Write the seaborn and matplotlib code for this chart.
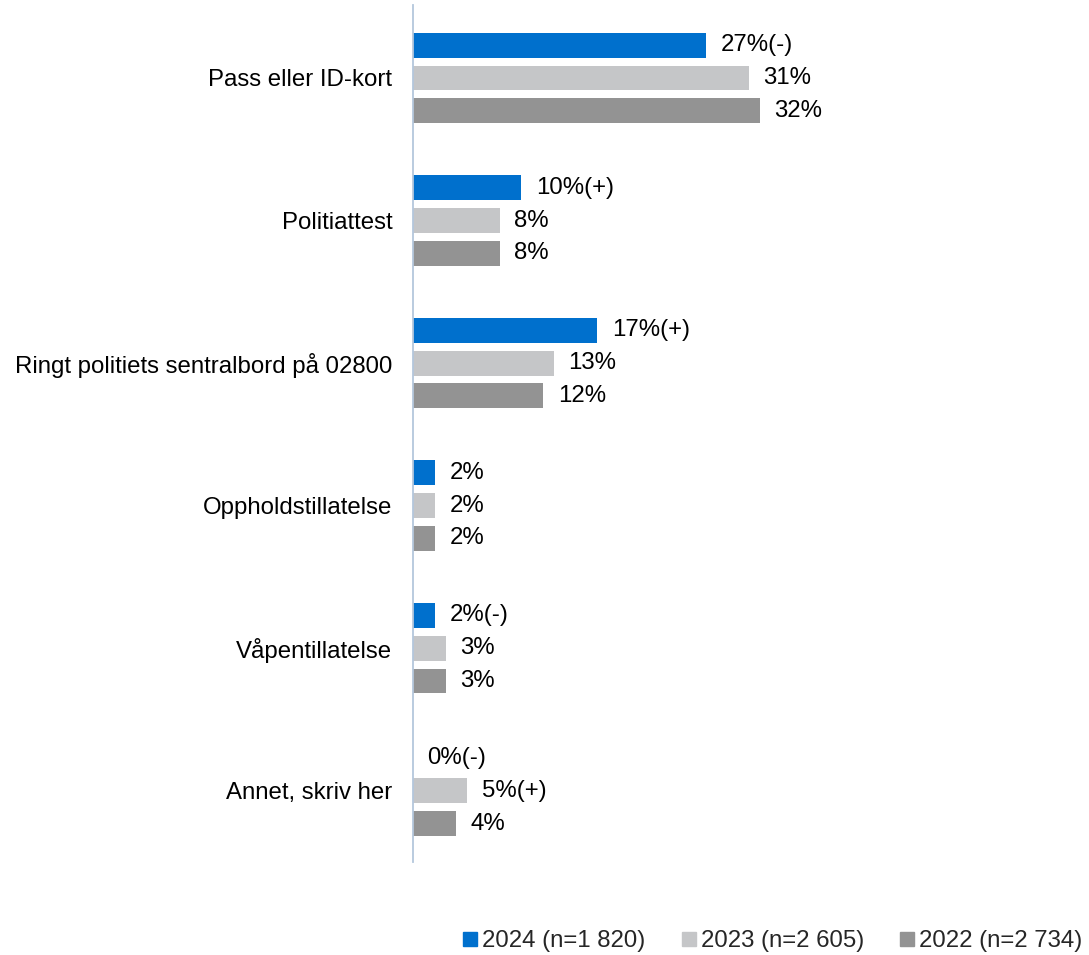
import numpy as np
import pandas as pd
import matplotlib
matplotlib.use("Agg")
import matplotlib.pyplot as plt
from matplotlib.lines import Line2D
import seaborn as sns

# data
categories = ["Pass eller ID-kort", "Politiattest", "Ringt politiets sentralbord på 02800",
              "Oppholdstillatelse", "Våpentillatelse", "Annet, skriv her"]
years = ["2024 (n=1 820)", "2023 (n=2 605)", "2022 (n=2 734)"]
v2024 = [27, 10, 17, 2, 2, 0]
v2023 = [31, 8, 13, 2, 3, 5]
v2022 = [32, 8, 12, 2, 3, 4]
sig2024 = ["(-)", "(+)", "(+)", "", "(-)", "(-)"]
sig2023 = ["", "", "", "", "", "(+)"]
sig2022 = ["", "", "", "", "", ""]
colors = ["#0070CD", "#C5C6C8", "#939393"]

rows = []
for yr, vals in zip(years, [v2024, v2023, v2022]):
    for c, v in zip(categories, vals):
        rows.append({"cat": c, "year": yr, "val": v})
df = pd.DataFrame(rows)

sns.set_style("white")
plt.rcParams["font.family"] = ["Liberation Sans", "DejaVu Sans"]
fs = 17.3

fig = plt.figure(figsize=(10.89, 9.55), dpi=100)
ax = fig.add_axes([413/1089, 1-862/955, 676/1089, 857/955])

sns.barplot(data=df, y="cat", x="val", hue="year", order=categories, hue_order=years,
            palette=colors, orient="h", width=0.69, gap=0.24, ax=ax, legend=False,
            linewidth=0, saturation=1)

for cont, vals, sig in zip(ax.containers, [v2024, v2023, v2022], [sig2024, sig2023, sig2022]):
    labs = [f"{v}%{s}" for v, s in zip(vals, sig)]
    ax.bar_label(cont, labels=labs, padding=10.5, fontsize=fs, color="#000000")

ax.set_xlim(0, 676/10.84)
ax.set_ylim(5.5, -0.512)
ax.set_xlabel("")
ax.set_ylabel("")
ax.set_xticks([])
ax.tick_params(axis="y", length=0, pad=15, labelsize=fs, labelcolor="#000000")
for s in ["top", "right", "bottom"]:
    ax.spines[s].set_visible(False)
ax.spines["left"].set_color("#B4C7DC")
ax.spines["left"].set_linewidth(1.3)

handles = [Line2D([], [], marker="s", linestyle="", markersize=9.5, color=c) for c in colors]
fig.legend(handles, years, loc="lower right", bbox_to_anchor=(1.014, -0.02), ncol=3,
           frameon=False, fontsize=fs, handletextpad=0.0, columnspacing=1.3,
           handlelength=1.0)

fig.savefig("out.png", dpi=100)
